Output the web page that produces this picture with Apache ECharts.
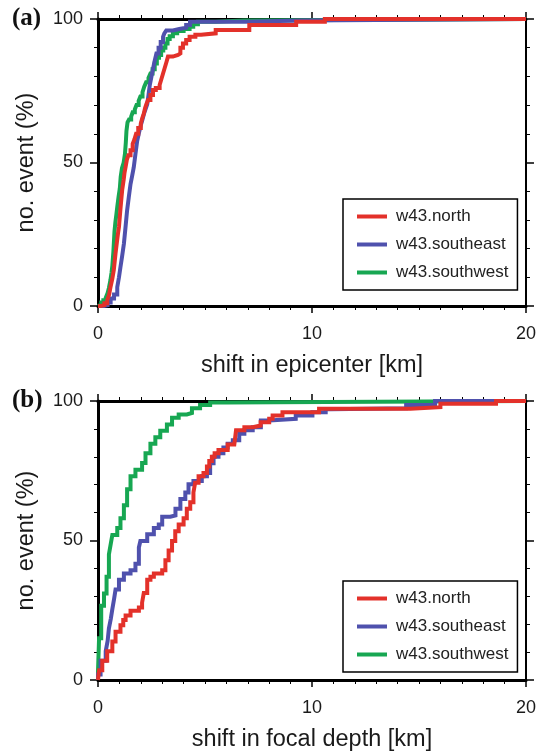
<!DOCTYPE html>
<html><head><meta charset="utf-8">
<script src="https://cdn.jsdelivr.net/npm/echarts@6/dist/echarts.min.js"></script>
<style>html,body{margin:0;padding:0;background:#fff}#c{width:539px;height:753px}</style>
</head><body><div id="c"></div>
<script>
// ---- data (x: shift in km, y: cumulative % of events) ----
const seriesNames = ['w43.north', 'w43.southeast', 'w43.southwest'];
const panelLabels = ['(a)', '(b)'];
const xTitles = ['shift in epicenter [km]', 'shift in focal depth [km]'];
const yTitle = 'no. event (%)';

const a_north = [[0,0],[0.12,0.3],[0.3,1],[0.43,2],[0.52,4],[0.59,6.8],[0.67,9.5],[0.74,12.6],[0.78,15.5],[0.82,18.4],[0.88,22],[0.93,25],[0.98,27.6],[1.04,33],[1.1,38],[1.13,40.4],[1.2,44],[1.24,46.5],[1.29,48.5],[1.35,51],[1.42,52.5],[1.52,54.3],[1.62,56.5],[1.7,58],[1.78,60],[1.88,62],[2.0,63.6],[2.07,65.5],[2.14,67],[2.2,69],[2.26,70.3],[2.34,71.8],[2.45,73.5],[2.57,75.3],[2.7,76],[2.88,77],[2.96,79],[3.04,81],[3.12,83],[3.2,85],[3.27,86.9],[3.5,87.5],[3.74,88],[3.85,90],[3.97,91.5],[4.12,92.7],[4.28,93.8],[4.55,94.5],[4.82,95],[5.5,96.2],[7.07,97.9],[9.26,99],[10.6,100],[20,100]];
const a_southeast = [[0,0],[0.28,0.3],[0.45,1.2],[0.59,2.6],[0.75,4],[0.9,6.6],[0.98,10],[1.05,13.6],[1.12,17],[1.21,21.7],[1.28,27],[1.36,33.3],[1.44,38],[1.52,42.5],[1.6,45.5],[1.67,48.3],[1.75,53],[1.83,57.5],[1.92,60.5],[2.0,63],[2.06,64.5],[2.15,67],[2.23,68.8],[2.3,70.3],[2.36,73.5],[2.42,77],[2.5,80],[2.58,83],[2.65,85.5],[2.73,88],[2.83,90],[2.93,92],[3.04,93.8],[3.1,95],[3.19,96],[3.5,96.5],[3.8,97],[4.12,97.9],[4.3,99],[6.9,99.5],[9.5,100],[20,100]];
const a_southwest = [[0,0],[0.05,0.5],[0.15,1.2],[0.25,2],[0.36,2.8],[0.45,4.5],[0.51,6.3],[0.58,9],[0.63,11.5],[0.67,14],[0.72,19],[0.77,25.9],[0.81,29],[0.86,32],[0.9,34.5],[0.96,38],[1.02,41],[1.06,45],[1.12,48],[1.2,50],[1.26,53],[1.3,57],[1.33,61],[1.38,64],[1.45,65],[1.55,66],[1.62,67.5],[1.72,68.5],[1.8,70],[1.9,71.5],[1.98,73],[2.08,74.5],[2.16,76.4],[2.25,78],[2.36,79.5],[2.45,81],[2.55,82.5],[2.65,84.5],[2.75,86.5],[2.85,87.5],[2.95,89],[3.05,90],[3.15,91.5],[3.25,93],[3.35,94],[3.5,95],[3.7,95.8],[4.0,96.5],[4.28,97.3],[4.45,98.2],[4.67,99],[5.5,99.5],[6.8,100],[20,100]];

const b_north = [[0,0],[0.05,3.5],[0.2,6.9],[0.43,10.3],[0.67,13.8],[0.82,17.3],[1.05,19.6],[1.18,21.5],[1.29,23.1],[1.52,24.8],[1.91,26],[2.06,27.7],[2.14,31.2],[2.3,35.9],[2.45,37],[2.61,38.2],[3.0,39.3],[3.15,42.9],[3.3,46.4],[3.46,49.8],[3.61,53.3],[3.77,55.7],[4.0,58],[4.15,61.4],[4.31,63.7],[4.46,67.2],[4.54,70.7],[4.7,73],[4.93,74.2],[5.09,76.5],[5.2,78.5],[5.32,80],[5.45,81.3],[5.63,82.4],[6.06,84.4],[6.37,85],[6.45,89.5],[6.84,90.6],[7.23,91.2],[7.6,92.4],[8.0,93.6],[8.16,94.8],[8.62,96],[10.33,97.2],[14.6,97.8],[16.0,99],[18.6,100],[20,100]];
const b_southeast = [[0,0],[0,2],[0.12,6.9],[0.36,10.3],[0.45,14],[0.51,18.5],[0.6,22],[0.67,25.4],[0.75,29],[0.82,32.4],[0.98,35.9],[1.21,38.2],[1.52,39.3],[1.75,41.7],[1.91,47.5],[1.98,49.8],[2.3,52.2],[2.61,54.5],[2.84,55.7],[3.0,58.5],[3.38,59],[3.62,61.4],[3.85,64.9],[4.08,67.2],[4.23,70.2],[4.46,71.3],[4.85,73],[5.09,74.2],[5.24,77.7],[5.4,80],[5.63,81.3],[5.86,83.3],[6.06,84.7],[6.3,85.9],[6.6,88.3],[6.84,89.5],[7.23,90.6],[7.61,93],[8.0,93.6],[9.24,94.8],[10.02,96],[10.64,97],[10.86,97.4],[14.4,98.6],[15.75,100],[20,100]];
const b_southwest = [[0,0],[0,3],[0.05,15],[0.15,26.6],[0.28,31],[0.4,37],[0.51,45],[0.6,49],[0.67,52],[0.9,54.5],[1.05,58],[1.21,62.6],[1.36,68.4],[1.52,73],[1.75,75.4],[2.06,77.8],[2.22,81.3],[2.45,84.7],[2.68,87],[2.91,89.3],[3.22,91.6],[3.46,94],[3.77,95.2],[4.15,95.7],[4.39,97.4],[4.77,98.6],[5.24,99.5],[6.0,100],[20,100]];

const xMin = 0, xMax = 20, xInterval = 10;
const yMin = 0, yMax = 100, yInterval = 50;

// ---- styles ----
const colors = ['#e3312a', '#4f51ad', '#17a752'];
const FONT = 'Liberation Sans, Arial, Helvetica, sans-serif';
const grids = [
  {left: 98, top: 19, width: 430, height: 287},
  {left: 98, top: 401, width: 430, height: 287}
];

const chart = echarts.init(document.getElementById('c'), null, {renderer: 'canvas'});

const xAxis = [], yAxis = [], series = [], legend = [], graphic = [];
const panelData = [[a_north, a_southeast, a_southwest], [b_north, b_southeast, b_southwest]];

grids.forEach((g, gi) => {
  const baseLine = {show: true, onZero: false, lineStyle: {color: '#000', width: 3}};
  xAxis.push({
    gridIndex: gi, type: 'value', min: xMin, max: xMax, interval: xInterval, position: 'bottom',
    axisLine: baseLine,
    axisTick: {show: true, length: 7, lineStyle: {color: '#000', width: 1.5}},
    minorTick: {show: true, splitNumber: 10, length: 4, lineStyle: {color: '#000', width: 1}},
    splitLine: {show: false},
    axisLabel: {margin: 19, fontSize: 18, color: '#1a1a1a', fontFamily: FONT},
    name: xTitles[gi], nameLocation: 'middle', nameGap: 48,
    nameTextStyle: {fontSize: 23.5, color: '#1a1a1a', fontFamily: FONT}
  });
  xAxis.push({
    gridIndex: gi, type: 'value', min: xMin, max: xMax, interval: xInterval, position: 'top',
    axisLine: baseLine,
    axisTick: {show: true, length: 7, lineStyle: {color: '#000', width: 1.5}},
    minorTick: {show: true, splitNumber: 10, length: 4, lineStyle: {color: '#000', width: 1}},
    splitLine: {show: false}, axisLabel: {show: false}
  });
  yAxis.push({
    gridIndex: gi, type: 'value', min: yMin, max: yMax, interval: yInterval, position: 'left',
    axisLine: baseLine,
    axisTick: {show: true, length: 8, lineStyle: {color: '#000', width: 1.5}},
    minorTick: {show: true, splitNumber: 5, length: 4, lineStyle: {color: '#000', width: 1}},
    splitLine: {show: false},
    axisLabel: {margin: 15, fontSize: 18, color: '#1a1a1a', fontFamily: FONT},
    name: yTitle, nameLocation: 'middle', nameGap: 59,
    nameTextStyle: {fontSize: 23.5, color: '#1a1a1a', fontFamily: FONT}
  });
  yAxis.push({
    gridIndex: gi, type: 'value', min: yMin, max: yMax, interval: yInterval, position: 'right',
    axisLine: {show: true, onZero: false, lineStyle: {color: '#000', width: 2}},
    axisTick: {show: true, length: 8, lineStyle: {color: '#000', width: 1.5}},
    minorTick: {show: true, splitNumber: 5, length: 4, lineStyle: {color: '#000', width: 1}},
    splitLine: {show: false}, axisLabel: {show: false}
  });
  // draw order: southwest, southeast, north (north on top)
  [2, 1, 0].forEach(si => {
    series.push({
      name: seriesNames[si], type: 'line', step: 'end',
      xAxisIndex: gi * 2, yAxisIndex: gi * 2,
      data: panelData[gi][si], showSymbol: false, symbol: 'none', clip: false,
      color: colors[si],
      lineStyle: {color: colors[si], width: 4, cap: 'butt', join: 'miter'},
      z: 3 + (2 - si)
    });
  });
  legend.push({
    orient: 'vertical', left: 343, top: g.top + 180,
    data: seriesNames.slice(), icon: 'rect', itemWidth: 30, itemHeight: 4, itemGap: 11,
    padding: [9, 9, 9, 14], backgroundColor: '#fff', borderColor: '#000', borderWidth: 1.5,
    selectedMode: false,
    textStyle: {fontSize: 17, color: '#222', fontFamily: FONT, lineHeight: 16.5, padding: [0, 0, 0, 4]}
  });
  graphic.push({
    type: 'text', left: 12, top: g.top - 13,
    style: {text: panelLabels[gi], font: 'bold 25px "Liberation Serif", "Times New Roman", serif', fill: '#111'}
  });
});

chart.setOption({
  animation: false,
  backgroundColor: '#fff',
  grid: grids.map(g => Object.assign({containLabel: false}, g)),
  xAxis, yAxis, series, legend, graphic
});
</script></body></html>
